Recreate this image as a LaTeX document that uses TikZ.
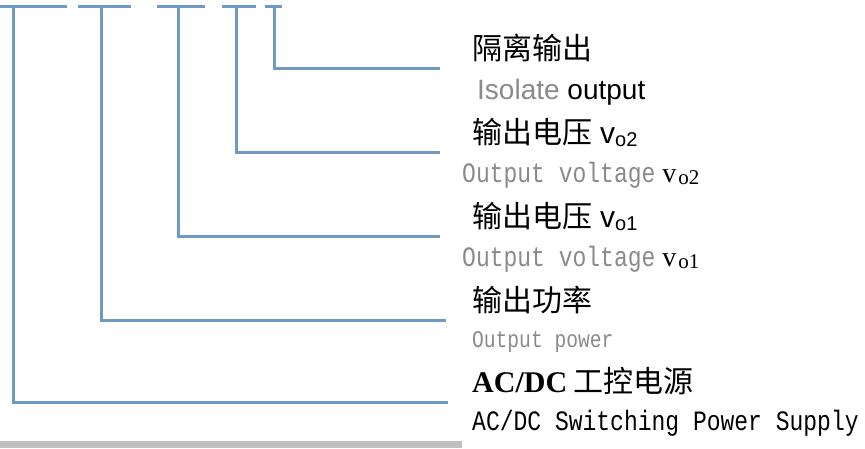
\documentclass[tikz,border=0pt]{standalone}
\usepackage{fontspec}
\setmainfont{Liberation Serif}
\newfontfamily\cjk{Noto Sans CJK SC}
\newfontfamily\arialf{Liberation Sans}
\newfontfamily\monof{Liberation Mono}
\definecolor{lineblue}{HTML}{6F9AC6}
\definecolor{txtgray}{HTML}{8A8A8A}
\definecolor{bargray}{HTML}{C0C0C0}
\newcommand{\tallmono}[1]{\scalebox{1}[1.22]{#1}}
\newcommand{\serifvsub}[1]{{\rmfamily\color{black}\fontsize{28}{28}\selectfont v\hspace{2pt}\raisebox{-0.08em}{\fontsize{21}{21}\selectfont #1}}}
\begin{document}
\begin{tikzpicture}[x=1pt,y=-1pt,
  conn/.style={draw=lineblue,line width=3pt},
  cnlabel/.style={anchor=base west,inner sep=0pt,font={\cjk\fontsize{30}{34}\selectfont}},
  enlabel/.style={anchor=base west,inner sep=0pt,text=txtgray,font={\monof\fontsize{23}{28}\selectfont}}]
\useasboundingbox (0,0) rectangle (865,448);
\fill[bargray] (0,441) rectangle (462,448);
% top underline segments
\foreach \a/\b in {0/67,78/131,157/205,222/256,265/282}
  \draw[conn] (\a,6) -- (\b,6);
% connector start / end points
\coordinate (t1) at (274,6); \coordinate (e1) at (440,68);
\coordinate (t2) at (236,6); \coordinate (e2) at (440,152);
\coordinate (t3) at (178,6); \coordinate (e3) at (440,236);
\coordinate (t4) at (101,6); \coordinate (e4) at (446,320);
\coordinate (t5) at (13,6);  \coordinate (e5) at (448,402);
\draw[conn] (t1) |- (e1);
\draw[conn] (t2) |- (e2);
\draw[conn] (t3) |- (e3);
\draw[conn] (t4) |- (e4);
\draw[conn] (t5) |- (e5);
% labels
\node[cnlabel] (c1) at (472,59) {隔离输出};
\node[anchor=base west,inner sep=0pt,font={\arialf\fontsize{28}{32}\selectfont}] (n1) at (477,99) {\textcolor{txtgray}{Isolate} output};
\node[cnlabel] (c2) at (472,143) {输出电压\hspace{8pt}{\arialf v\raisebox{-0.12em}{\fontsize{20}{20}\selectfont o2}}};
\node[enlabel] (n2) at (462,182) {\tallmono{Output voltage}\hspace{7pt}\serifvsub{o2}};
\node[cnlabel] (c3) at (472,227) {输出电压\hspace{8pt}{\arialf v\raisebox{-0.12em}{\fontsize{20}{20}\selectfont o1}}};
\node[enlabel] (n3) at (462,266) {\tallmono{Output voltage}\hspace{7pt}\serifvsub{o1}};
\node[cnlabel] (c4) at (472,311) {输出功率};
\node[enlabel,font={\monof\fontsize{19.6}{24}\selectfont}] (n4) at (472,347) {\tallmono{Output power}};
\node[cnlabel] (c5) at (472,392) {{\rmfamily\bfseries\fontsize{30}{34}\selectfont AC/DC} 工控电源};
\node[enlabel,text=black] (n5) at (472,430) {\tallmono{AC/DC Switching Power Supply}};
\end{tikzpicture}
\end{document}
